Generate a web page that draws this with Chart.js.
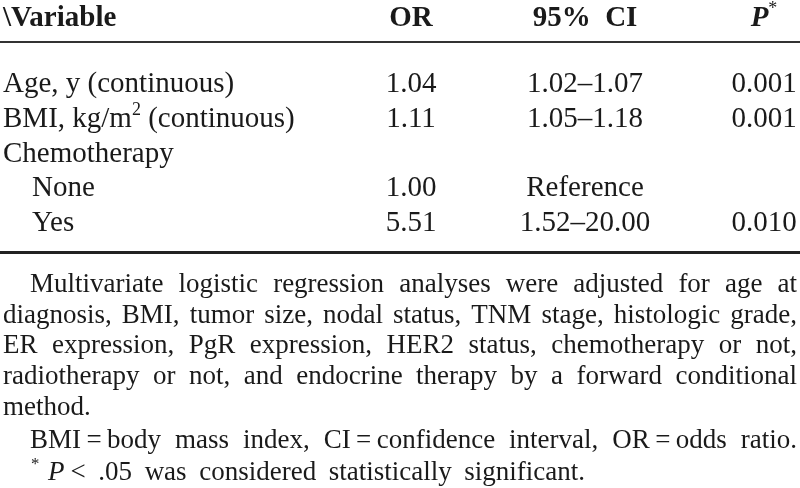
<!DOCTYPE html>
<html><head><meta charset="utf-8">
<script src="https://cdn.jsdelivr.net/npm/chart.js@4"></script>
<style>html,body{margin:0;padding:0;background:#fff;}canvas{display:block}</style>
</head><body>
<canvas id="c" width="800" height="488"></canvas>
<script>
// ---- data ----
const headers = ['\\Variable', 'OR', '95%\u2002CI', 'P'];
const variables = ['Age, y (continuous)', 'BMI, kg/m^2 (continuous)', 'Chemotherapy', 'None', 'Yes'];
const indentLevel = [0, 0, 0, 1, 1];
const orValues = ['1.04', '1.11', '', '1.00', '5.51'];
const ciValues = ['1.02\u20131.07', '1.05\u20131.18', '', 'Reference', '1.52\u201320.00'];
const pValues = ['0.001', '0.001', '', '', '0.010'];
const noteParagraph = [
  'Multivariate logistic regression analyses were adjusted for age at',
  'diagnosis, BMI, tumor size, nodal status, TNM stage, histologic grade,',
  'ER expression, PgR expression, HER2 status, chemotherapy or not,',
  'radiotherapy or not, and endocrine therapy by a forward conditional',
  'method.'
];
const noteAbbrev = 'BMI\u2009=\u2009body mass index, CI\u2009=\u2009confidence interval, OR\u2009=\u2009odds ratio.';
const noteSignif = '< .05 was considered statistically significant.';

// ---- layout ----
const FONT = '"Liberation Serif", "Times New Roman", serif';
const X = {left: 3, indent: 32, or: 411, ci: 585, p: 764, note: 30, right: 797,
           star: 31, pItalic: 48, signifEnd: 585};
const Y = {header: 26, rule1: 42, row0: 92, rowStep: 34.8, rule2: 252.5,
           notes: [292, 322.5, 353, 384, 415, 448, 480]};
const TS = 29, NS = 27;
const INK = '#1a1a1a';

function fontOf(seg, size) {
  const s = seg.sup ? size * 0.62 : size;
  return (seg.i ? 'italic ' : '') + (seg.b ? 'bold ' : '') + s + 'px ' + FONT;
}
function parseSup(str, extra) {
  const segs = [];
  let buf = '';
  for (let k = 0; k < str.length; k++) {
    if (str[k] === '^') {
      if (buf) segs.push(Object.assign({t: buf}, extra));
      buf = '';
      segs.push(Object.assign({t: str[k + 1], sup: true}, extra));
      k++;
    } else buf += str[k];
  }
  if (buf) segs.push(Object.assign({t: buf}, extra));
  return segs;
}
function drawSegs(ctx, segs, x, y, align, size) {
  let total = 0;
  const w = segs.map(sg => { ctx.font = fontOf(sg, size); const m = ctx.measureText(sg.t).width; total += m; return m; });
  let cx = align === 'center' ? x - total / 2 : align === 'right' ? x - total : x;
  ctx.textAlign = 'left';
  ctx.textBaseline = 'alphabetic';
  segs.forEach((sg, k) => {
    ctx.font = fontOf(sg, size);
    ctx.fillText(sg.t, cx, sg.sup ? y - size * 0.4 : y);
    cx += w[k];
  });
  return cx;
}
function drawJustified(ctx, text, x0, x1, y, size) {
  ctx.font = size + 'px ' + FONT;
  ctx.textAlign = 'left';
  ctx.textBaseline = 'alphabetic';
  const words = text.split(' ');
  const ws = words.map(w => ctx.measureText(w).width);
  const sum = ws.reduce((a, b) => a + b, 0);
  const gap = (x1 - x0 - sum) / (words.length - 1);
  let cx = x0;
  words.forEach((w, k) => { ctx.fillText(w, cx, y); cx += ws[k] + gap; });
}

const tablePlugin = {
  id: 'tableText',
  afterDatasetsDraw(chart) {
    const ctx = chart.ctx, sx = chart.scales.x, sy = chart.scales.y;
    const px = v => sx.getPixelForValue(v), py = v => sy.getPixelForValue(v);
    ctx.save();
    ctx.fillStyle = INK;
    // header
    const hy = py(Y.header);
    drawSegs(ctx, [{t: headers[0], b: true}], px(X.left), hy, 'left', TS);
    drawSegs(ctx, [{t: headers[1], b: true}], px(X.or), hy, 'center', TS);
    drawSegs(ctx, [{t: headers[2], b: true}], px(X.ci), hy, 'center', TS);
    drawSegs(ctx, [{t: headers[3], b: true, i: true}, {t: '*', sup: true}], px(X.p), hy, 'center', TS);
    // rows
    variables.forEach((v, r) => {
      const y = py(Y.row0 + r * Y.rowStep);
      drawSegs(ctx, parseSup(v, {}), px(indentLevel[r] ? X.indent : X.left), y, 'left', TS);
      if (orValues[r]) drawSegs(ctx, [{t: orValues[r]}], px(X.or), y, 'center', TS);
      if (ciValues[r]) drawSegs(ctx, [{t: ciValues[r]}], px(X.ci), y, 'center', TS);
      if (pValues[r]) drawSegs(ctx, [{t: pValues[r]}], px(X.p), y, 'center', TS);
    });
    // footnotes
    noteParagraph.forEach((line, k) => {
      const y = py(Y.notes[k]);
      const x0 = px(k === 0 ? X.note : X.left);
      if (k < noteParagraph.length - 1) drawJustified(ctx, line, x0, px(X.right), y, NS);
      else drawSegs(ctx, [{t: line}], x0, y, 'left', NS);
    });
    drawJustified(ctx, noteAbbrev, px(X.note), px(X.right), py(Y.notes[5]), NS);
    const y7 = py(Y.notes[6]);
    drawSegs(ctx, [{t: '*', sup: true}], px(X.star), y7, 'left', NS);
    const afterP = drawSegs(ctx, [{t: 'P', i: true}], px(X.pItalic), y7, 'left', NS);
    drawJustified(ctx, noteSignif, afterP + 6, px(X.signifEnd), y7, NS);
    ctx.restore();
  }
};

new Chart(document.getElementById('c'), {
  type: 'line',
  data: {
    datasets: [
      {data: [{x: 0, y: Y.rule1}, {x: 800, y: Y.rule1}], borderColor: '#333', borderWidth: 2.2, pointRadius: 0},
      {data: [{x: 0, y: Y.rule2}, {x: 800, y: Y.rule2}], borderColor: '#222', borderWidth: 3, pointRadius: 0}
    ]
  },
  options: {
    responsive: false,
    animation: false,
    events: [],
    layout: {padding: 0},
    plugins: {legend: {display: false}, tooltip: {enabled: false}},
    scales: {
      x: {type: 'linear', min: 0, max: 800, display: false},
      y: {type: 'linear', min: 0, max: 488, reverse: true, display: false}
    }
  },
  plugins: [tablePlugin]
});
</script>
</body></html>
